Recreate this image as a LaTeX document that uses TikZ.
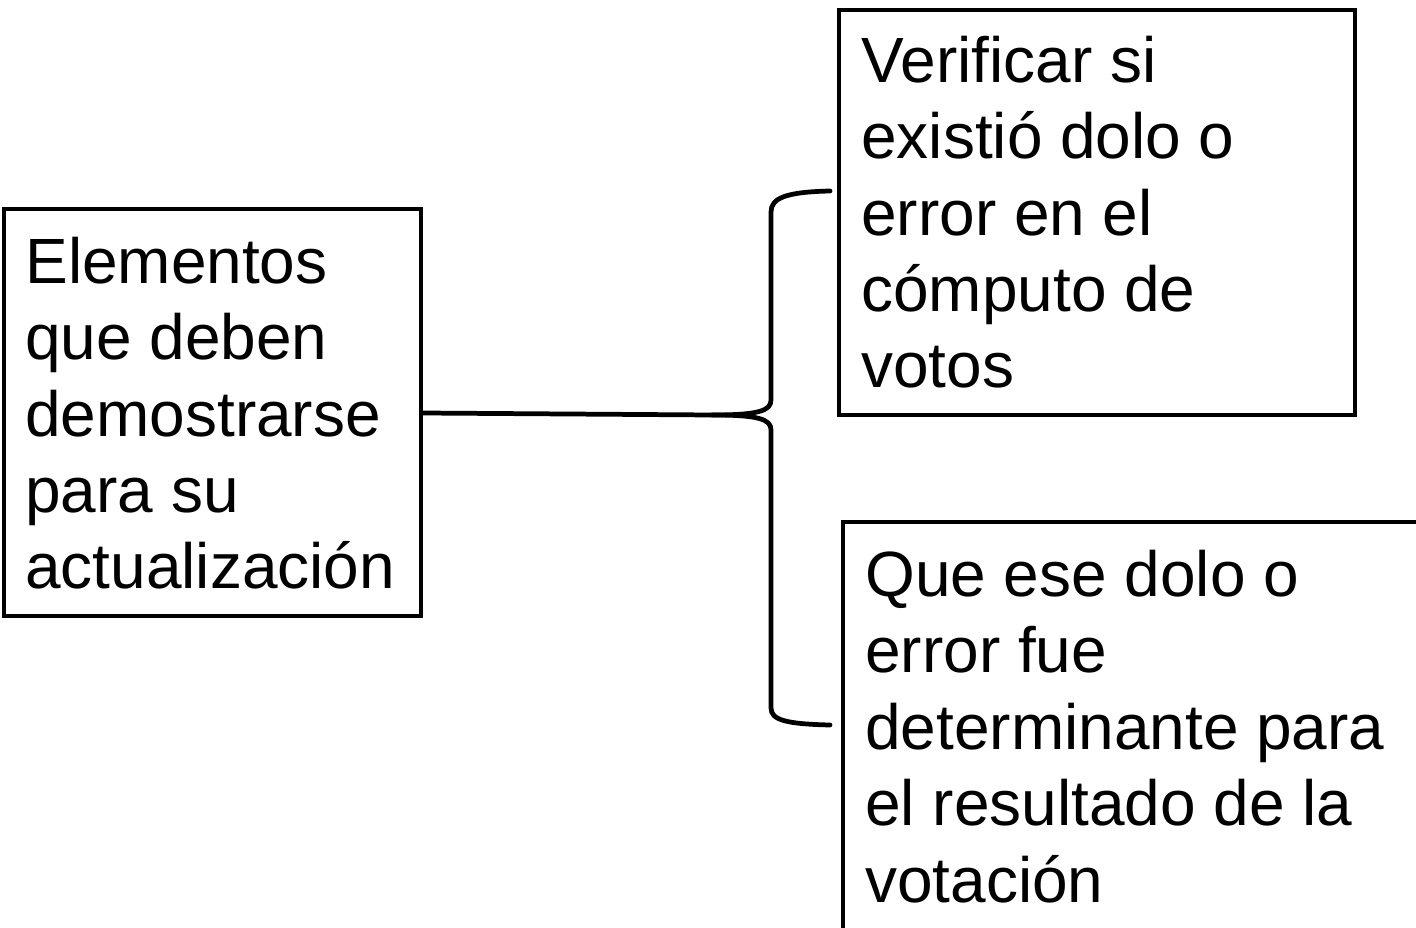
\documentclass[tikz,border=0pt]{standalone}
\usepackage{fontspec}
\setmainfont{Liberation Sans}
\begin{document}
\begin{tikzpicture}[x=0.02cm,y=-0.02cm,
  box/.style={draw=black,line width=1.8pt,rectangle,inner sep=0pt,fill=none},
  txt/.style={anchor=base west,align=left,inner sep=0pt,font=\fontsize{36.4pt}{43.5pt}\selectfont},
  bracel/.style={draw=black,line width=2.7pt,line cap=round}]
\useasboundingbox (0,0) rectangle (1416,928);
\clip (0,0) rectangle (1416,928);
\fill[white] (0,0) rectangle (1416,928);
% boxes
\node[box,minimum width=417*0.02cm,minimum height=407*0.02cm] (L) at (212.5,412.5) {};
\node[box,minimum width=516*0.02cm,minimum height=405*0.02cm] (T) at (1097,212.5) {};
\node[box,minimum width=617*0.02cm,minimum height=458*0.02cm] (B) at (1151.5,751) {};
% texts (anchored at the baseline of the last line)
\node[txt] (Lt) at (25,589) {Elementos\\que deben\\demostrarse\\para su\\actualización};
\node[txt] (Tt) at (861,388) {Verificar si\\existió dolo o\\error en el\\cómputo de\\votos};
\node[txt] (Bt) at (865,902) {Que ese dolo o\\error fue\\determinante para\\el resultado de la\\votación};
% brace
\coordinate (mid) at (712,415);
\coordinate (te) at (830,191);
\coordinate (be) at (830,725);
\draw[bracel] (L.east |- 0,413) -- (mid)
  .. controls (758,415) and (771,411) .. (771,400) -- (771,212)
  .. controls (771,198) and (786,192) .. (te);
\draw[bracel] (mid)
  .. controls (758,415) and (771,419) .. (771,430) -- (771,708)
  .. controls (771,720) and (786,724) .. (be);
\end{tikzpicture}
\end{document}
